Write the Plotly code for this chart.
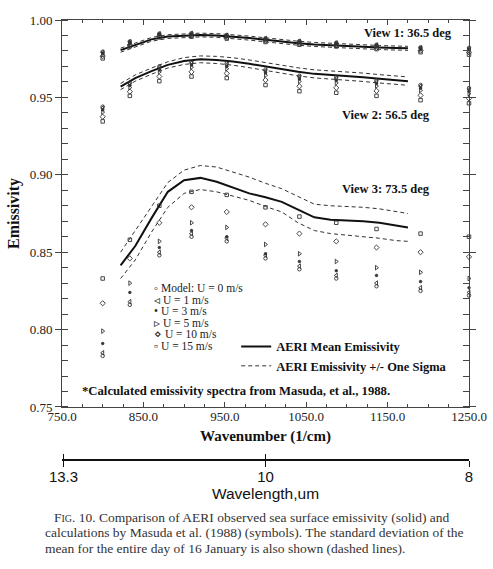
import plotly.graph_objects as go

# Masuda et al. (1988) model wavelengths (um) -> wavenumber columns
model_wl = [12.5, 12.0, 11.5, 11.0, 10.5, 10.0, 9.6, 9.2, 8.8, 8.4, 8.0]
model_wn = [1e4 / w for w in model_wl]

# model emissivity, one list per wind speed and view angle
v1_u0 = [0.9795, 0.9862, 0.9912, 0.9915, 0.9903, 0.9882, 0.9864, 0.9853, 0.9840, 0.9823, 0.9820]
v1_u1 = [0.9791, 0.9859, 0.9910, 0.9913, 0.9901, 0.9880, 0.9862, 0.9851, 0.9838, 0.9820, 0.9816]
v1_u3 = [0.9786, 0.9855, 0.9907, 0.9910, 0.9898, 0.9877, 0.9859, 0.9848, 0.9834, 0.9816, 0.9811]
v1_u5 = [0.9779, 0.9850, 0.9903, 0.9906, 0.9894, 0.9873, 0.9855, 0.9844, 0.9829, 0.9811, 0.9804]
v1_u10 = [0.9766, 0.9840, 0.9896, 0.9899, 0.9887, 0.9866, 0.9848, 0.9837, 0.9821, 0.9802, 0.9791]
v1_u15 = [0.9752, 0.9830, 0.9888, 0.9892, 0.9880, 0.9858, 0.9840, 0.9829, 0.9812, 0.9792, 0.9776]

v2_u0 = [0.9440, 0.9595, 0.9700, 0.9730, 0.9720, 0.9680, 0.9640, 0.9630, 0.9610, 0.9580, 0.9560]
v2_u1 = [0.9432, 0.9588, 0.9692, 0.9722, 0.9712, 0.9672, 0.9632, 0.9622, 0.9602, 0.9572, 0.9552]
v2_u3 = [0.9420, 0.9577, 0.9680, 0.9710, 0.9700, 0.9659, 0.9619, 0.9609, 0.9589, 0.9560, 0.9540]
v2_u5 = [0.9405, 0.9563, 0.9665, 0.9695, 0.9685, 0.9643, 0.9603, 0.9593, 0.9573, 0.9545, 0.9525]
v2_u10 = [0.9375, 0.9537, 0.9635, 0.9665, 0.9655, 0.9612, 0.9572, 0.9562, 0.9542, 0.9513, 0.9493]
v2_u15 = [0.9345, 0.9510, 0.9605, 0.9635, 0.9625, 0.9580, 0.9540, 0.9530, 0.9510, 0.9482, 0.9462]

v3_u0 = [0.783, 0.816, 0.848, 0.860, 0.857, 0.846, 0.839, 0.833, 0.828, 0.825, 0.822]
v3_u1 = [0.785, 0.818, 0.850, 0.862, 0.859, 0.848, 0.841, 0.835, 0.830, 0.827, 0.824]
v3_u3 = [0.791, 0.824, 0.853, 0.864, 0.860, 0.849, 0.844, 0.838, 0.835, 0.831, 0.827]
v3_u5 = [0.799, 0.830, 0.857, 0.869, 0.866, 0.855, 0.849, 0.844, 0.840, 0.837, 0.833]
v3_u10 = [0.817, 0.846, 0.869, 0.879, 0.876, 0.868, 0.862, 0.857, 0.853, 0.850, 0.847]
v3_u15 = [0.833, 0.858, 0.880, 0.889, 0.887, 0.879, 0.873, 0.869, 0.865, 0.862, 0.860]

# AERI observed mean emissivity and +/- one sigma
aeri_wn = [822, 840, 860, 880, 900, 920, 940, 960, 980, 1000,
           1020, 1040, 1060, 1080, 1100, 1120, 1140, 1160, 1175]
v1_mean = [0.9805, 0.9840, 0.9875, 0.9893, 0.9900, 0.9903, 0.9900, 0.9893, 0.9883, 0.9872,
           0.9860, 0.9850, 0.9842, 0.9836, 0.9831, 0.9826, 0.9822, 0.9819, 0.9817]
v1_hi = [0.9818, 0.9852, 0.9887, 0.9905, 0.9912, 0.9915, 0.9912, 0.9906, 0.9896, 0.9885,
         0.9873, 0.9863, 0.9855, 0.9849, 0.9844, 0.9839, 0.9835, 0.9832, 0.9830]
v1_lo = [0.9792, 0.9828, 0.9863, 0.9881, 0.9888, 0.9891, 0.9888, 0.9880, 0.9870, 0.9859,
         0.9847, 0.9837, 0.9829, 0.9823, 0.9818, 0.9813, 0.9809, 0.9806, 0.9804]
v2_mean = [0.9570, 0.9625, 0.9670, 0.9710, 0.9735, 0.9746, 0.9742, 0.9732, 0.9717, 0.9700,
           0.9680, 0.9665, 0.9652, 0.9645, 0.9640, 0.9630, 0.9620, 0.9610, 0.9605]
v2_hi = [0.9590, 0.9645, 0.9690, 0.9730, 0.9757, 0.9768, 0.9765, 0.9756, 0.9742, 0.9725,
         0.9706, 0.9691, 0.9678, 0.9671, 0.9666, 0.9657, 0.9647, 0.9637, 0.9632]
v2_lo = [0.9550, 0.9605, 0.9650, 0.9690, 0.9713, 0.9724, 0.9719, 0.9708, 0.9692, 0.9675,
         0.9654, 0.9639, 0.9626, 0.9619, 0.9614, 0.9603, 0.9593, 0.9583, 0.9578]
v3_mean = [0.8415, 0.8540, 0.8720, 0.8890, 0.8965, 0.8980, 0.8955, 0.8915, 0.8880, 0.8855,
           0.8825, 0.8775, 0.8725, 0.8710, 0.8705, 0.8700, 0.8690, 0.8675, 0.8660]
v3_hi = [0.8500, 0.8640, 0.8790, 0.8950, 0.9030, 0.9060, 0.9050, 0.9020, 0.8985, 0.8945,
         0.8910, 0.8860, 0.8810, 0.8800, 0.8795, 0.8790, 0.8780, 0.8765, 0.8750]
v3_lo = [0.8330, 0.8450, 0.8630, 0.8790, 0.8880, 0.8905, 0.8890, 0.8860, 0.8835, 0.8795,
         0.8760, 0.8690, 0.8640, 0.8620, 0.8610, 0.8600, 0.8590, 0.8575, 0.8570]

view_labels = ["View 1: 36.5 deg", "View 2: 56.5 deg", "View 3: 73.5 deg"]
view_label_pos = [(1175, 0.9915), (1148, 0.9386), (1148, 0.8908)]

wind_labels = ["Model: U = 0 m/s", "U = 1 m/s", "U = 3 m/s", "U = 5 m/s", "U = 10 m/s", "U = 15 m/s"]
wind_glyphs = ["◦", "◃", "•", "▹", "⋄", "▫"]
wind_symbols = ["circle-open", "triangle-left-open", "circle", "triangle-right-open",
                "diamond-open", "square-open"]
wind_sizes = [3.5, 4, 2.5, 4, 4, 3.5]

# wavelength axis labels (um)
wl_ticks = [13.3, 10, 8]

SERIF = "Liberation Serif, Times New Roman, serif"
SANS = "Liberation Sans, Arial, sans-serif"

model_by_wind = [
    (v1_u0, v2_u0, v3_u0), (v1_u1, v2_u1, v3_u1), (v1_u3, v2_u3, v3_u3),
    (v1_u5, v2_u5, v3_u5), (v1_u10, v2_u10, v3_u10), (v1_u15, v2_u15, v3_u15),
]

fig = go.Figure()

# AERI lines
for i, (mean, hi, lo) in enumerate([(v1_mean, v1_hi, v1_lo),
                                    (v2_mean, v2_hi, v2_lo),
                                    (v3_mean, v3_hi, v3_lo)]):
    for band in (hi, lo):
        fig.add_trace(go.Scatter(
            x=aeri_wn, y=band, mode="lines",
            line=dict(color="#333", width=1, dash="4px,3px"),
            name="<b>AERI Emissivity +/- One Sigma</b>",
            legend="legend2", legendrank=2, showlegend=(i == 0 and band is hi),
            hoverinfo="skip",
        ))
    fig.add_trace(go.Scatter(
        x=aeri_wn, y=mean, mode="lines",
        line=dict(color="#111", width=2),
        name="<b>AERI Mean Emissivity</b>",
        legend="legend2", legendrank=1, showlegend=(i == 0),
    ))

# model symbols
for k, views in enumerate(model_by_wind):
    xs, ys = [], []
    for vals in views:
        xs += model_wn
        ys += vals
    fig.add_trace(go.Scatter(
        x=xs, y=ys, mode="markers", name=wind_labels[k], showlegend=False,
        cliponaxis=False,
        marker=dict(symbol=wind_symbols[k], size=wind_sizes[k], color="#333",
                    line=dict(color="#333", width=0.9)),
    ))

# empty traces so the wavelength axes get drawn
for ax in ("x2", "x3"):
    fig.add_trace(go.Scatter(x=[], y=[], xaxis=ax, showlegend=False, hoverinfo="skip"))

annotations = []
for text, (ax_x, ax_y) in zip(view_labels, view_label_pos):
    annotations.append(dict(x=ax_x, y=ax_y, xref="x", yref="y", text="<b>%s</b>" % text,
                            showarrow=False, font=dict(family=SERIF, size=12.5, color="#111")))

# symbol legend drawn as text
leg_y = [0.8269, 0.8191, 0.8120, 0.8042, 0.7971, 0.7894]
for k in range(len(wind_labels)):
    annotations.append(dict(x=861, y=leg_y[k], xref="x", yref="y", xanchor="left",
                            text="%s %s" % (wind_glyphs[k], wind_labels[k]), showarrow=False,
                            font=dict(family=SERIF, size=11.5, color="#222")))

annotations.append(dict(x=772, y=0.7604, xref="x", yref="y", xanchor="left",
                        text="<b>*Calculated emissivity spectra from Masuda, et al., 1988.</b>",
                        showarrow=False, font=dict(family=SERIF, size=12.7, color="#111")))

caption = [
    ("F<span style='font-size:10px'>IG</span>. 10. Comparison of AERI observed sea surface emissivity (solid) and", -0.024, -0.1318),
    ("calculations by Masuda et al. (1988) (symbols). The standard deviation of the", -0.047, -0.1659),
    ("mean for the entire day of 16 January is also shown (dashed lines).", -0.047, -0.2),
]
for text, cx, cy in caption:
    annotations.append(dict(x=cx, y=cy, xref="paper", yref="paper", xanchor="left",
                            yanchor="middle", text=text, showarrow=False,
                            font=dict(family=SERIF, size=13.5, color="#333")))

wl_pos = [1e4 / w for w in wl_ticks]
wl_text = [str(w) for w in wl_ticks]

fig.update_layout(
    width=493, height=569,
    margin=dict(l=62, r=24, t=20, b=109),
    plot_bgcolor="white", paper_bgcolor="white",
    font=dict(family=SERIF, size=13, color="#222"),
    annotations=annotations,
    legend2=dict(x=0.428, y=0.291, xanchor="left", yanchor="top",
                 bgcolor="rgba(0,0,0,0)", tracegroupgap=0,
                 font=dict(family=SERIF, size=12.5, color="#111")),
    xaxis=dict(
        range=[750, 1250], tickmode="linear", tick0=750, dtick=100, tickformat=".1f",
        ticks="inside", ticklen=5, showline=True, linecolor="#444", mirror="allticks",
        showgrid=False, zeroline=False, automargin=False, ticklabelstandoff=-3,
        minor=dict(dtick=25, tick0=750, ticks="inside", ticklen=2.5, showgrid=False),
        title=dict(text="<b>Wavenumber (1/cm)</b>", font=dict(family=SERIF, size=15, color="#111"),
                   standoff=7),
        tickfont=dict(family=SERIF, size=13, color="#222"),
    ),
    yaxis=dict(
        range=[0.75, 1.0], domain=[0.1205, 1], tickmode="linear", tick0=0.75, dtick=0.05,
        tickformat=".2f", ticks="outside", ticklen=6, showline=True, linecolor="#444",
        mirror="allticks", showgrid=False, zeroline=False, automargin=False,
        minor=dict(dtick=0.01, ticks="inside", ticklen=3, showgrid=False),
        title=dict(text="<b>Emissivity</b>", font=dict(family=SERIF, size=16, color="#111"),
                   standoff=6),
        tickfont=dict(family=SERIF, size=13, color="#222"),
    ),
    xaxis2=dict(
        overlaying="x", anchor="free", position=0, side="bottom", range=[750, 1250],
        tickmode="array", tickvals=wl_pos, ticktext=wl_text, ticks="outside", ticklen=6,
        tickcolor="#111", showline=True, linecolor="#111", linewidth=1.5, showgrid=False,
        zeroline=False, automargin=False, ticklabelstandoff=-3,
        tickfont=dict(family=SANS, size=15, color="#111"),
        title=dict(text="Wavelength,um", font=dict(family=SANS, size=15.5, color="#111"), standoff=2),
    ),
    xaxis3=dict(
        overlaying="x", anchor="free", position=0, side="bottom", range=[750, 1250],
        tickmode="array", tickvals=wl_pos, ticks="inside", ticklen=6, tickcolor="#111",
        showticklabels=False, showline=False, showgrid=False, zeroline=False, automargin=False,
    ),
)

# the page's default 8px body margin would shift the figure off the window
fig.write_html("out.html", config={"displayModeBar": False},
               post_script="document.body.style.margin='0';")
